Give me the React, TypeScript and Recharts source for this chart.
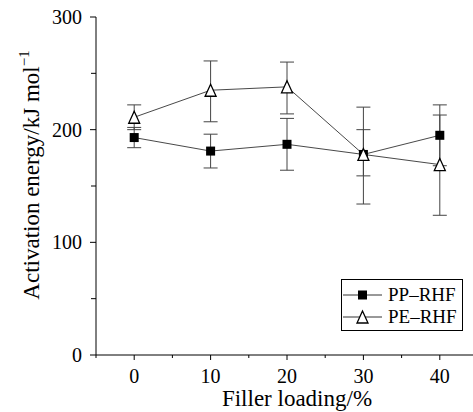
import React from "react";
import { LineChart, Line, XAxis, YAxis, ErrorBar, Legend } from "recharts";

// filler loading (%) on the x axis
const loading = [0, 10, 20, 30, 40];
// activation energy, kJ/mol
const ppRhf = [193, 181, 187, 178, 195];
const ppRhfErr: [number, number][] = [[9, 9], [15, 15], [23, 23], [19, 22], [27, 27]];
const peRhf = [211, 235, 238, 178, 169];
const peRhfErr: [number, number][] = [[11, 11], [28, 26], [24, 22], [44, 42], [45, 44]];

const xTicks = [-5, 0, 5, 10, 15, 20, 25, 30, 35, 40, 45];
const yTicks = [0, 50, 100, 150, 200, 250, 300];

const FONT = "'Liberation Serif', 'Times New Roman', serif";

const data = loading.map((x, i) => ({
  x,
  pp: ppRhf[i],
  ppErr: ppRhfErr[i],
  pe: peRhf[i],
  peErr: peRhfErr[i],
}));

const BottomTick = ({ x, y, payload }: any) => {
  const v = payload.value;
  const major = v % 10 === 0;
  return (
    <g>
      <line x1={x} x2={x} y1={y} y2={y + (major ? 5 : 3)} stroke="#000" />
      {major && v >= 0 && v <= 40 && (
        <text x={x} y={y + 28} textAnchor="middle" fontSize={20} fontFamily={FONT} fill="#000">
          {v}
        </text>
      )}
    </g>
  );
};

const TopTick = ({ x, y, payload }: any) => {
  const major = payload.value % 10 === 0;
  return <line x1={x} x2={x} y1={y} y2={y + (major ? 7 : 5)} stroke="#000" />;
};

const LeftTick = ({ x, y, payload }: any) => {
  const v = payload.value;
  const major = v % 100 === 0;
  return (
    <g>
      <line x1={x} x2={x - (major ? 6 : 5)} y1={y} y2={y} stroke="#000" />
      {major && (
        <text x={x - 14} y={y + 7} textAnchor="end" fontSize={20} fontFamily={FONT} fill="#000">
          {v}
        </text>
      )}
    </g>
  );
};

const RightTick = ({ x, y, payload }: any) => {
  const major = payload.value % 100 === 0;
  return <line x1={x} x2={x - (major ? 7 : 5)} y1={y} y2={y} stroke="#000" />;
};

const SquareDot = ({ cx, cy }: any) => (
  <rect x={cx - 4.5} y={cy - 4.5} width={9} height={9} fill="#000" />
);

const TriangleDot = ({ cx, cy }: any) => (
  <polygon
    points={`${cx},${cy - 6} ${cx - 5.5},${cy + 6} ${cx + 5.5},${cy + 6}`}
    fill="#fff"
    stroke="#000"
    strokeWidth={1.3}
  />
);

const LegendBox = () => (
  <div
    style={{
      border: "1px solid #000",
      background: "#fff",
      width: 120,
      height: 50,
      boxSizing: "content-box",
      fontFamily: FONT,
      fontSize: 19,
      color: "#000",
    }}
  >
    {[
      { label: "PP–RHF", marker: "square" },
      { label: "PE–RHF", marker: "triangle" },
    ].map((it, i) => (
      <div key={it.label} style={{ display: "flex", alignItems: "center", height: 21, marginTop: i === 0 ? 4 : 1 }}>
        <svg width={44} height={16} style={{ display: "block" }}>
          <line x1={1} x2={40} y1={8} y2={8} stroke="#333" strokeWidth={1} />
          {it.marker === "square" ? (
            <rect x={16} y={3.5} width={9} height={9} fill="#000" />
          ) : (
            <polygon points="20.5,2 15,14 26,14" fill="#fff" stroke="#000" strokeWidth={1.3} />
          )}
        </svg>
        <span style={{ marginLeft: 2, lineHeight: "21px" }}>{it.label}</span>
      </div>
    ))}
  </div>
);

const YTitle = () => (
  <text
    x={39}
    y={175}
    transform="rotate(-90, 39, 175)"
    textAnchor="middle"
    fontSize={23}
    fontFamily={FONT}
    fill="#000"
  >
    <tspan>Activation energy/kJ mol</tspan>
    <tspan dy={-10} fontSize={15}>
      −1
    </tspan>
  </text>
);

const XTitle = () => (
  <text x={297} y={406} textAnchor="middle" fontSize={23} fontFamily={FONT} fill="#000">
    Filler loading/%
  </text>
);

export default function App() {
  return (
    <div
      style={{
        position: "fixed",
        left: 0,
        top: 0,
        width: 473,
        height: 412,
        overflow: "hidden",
        background: "#fff",
      }}
    >
      <LineChart width={490} height={412} data={data} margin={{ top: 17, right: 12, left: 0, bottom: 0 }}>
        <XAxis
          dataKey="x"
          type="number"
          domain={[-5, 45]}
          ticks={xTicks}
          interval={0}
          height={57}
          axisLine={{ stroke: "#000" }}
          tickLine={false}
          tickSize={0}
          tickMargin={0}
          tick={<BottomTick />}
          label={<XTitle />}
        />
        <XAxis
          xAxisId="top"
          orientation="top"
          dataKey="x"
          type="number"
          domain={[-5, 45]}
          ticks={xTicks}
          interval={0}
          height={0}
          axisLine={{ stroke: "#000" }}
          tickLine={false}
          tickSize={0}
          tickMargin={0}
          tick={<TopTick />}
        />
        <YAxis
          type="number"
          domain={[0, 300]}
          ticks={yTicks}
          interval={0}
          width={96}
          axisLine={{ stroke: "#000" }}
          tickLine={false}
          tickSize={0}
          tickMargin={0}
          tick={<LeftTick />}
          label={<YTitle />}
        />
        <YAxis
          yAxisId="right"
          orientation="right"
          type="number"
          domain={[0, 300]}
          ticks={yTicks}
          interval={0}
          width={0}
          axisLine={{ stroke: "#000" }}
          tickLine={false}
          tickSize={0}
          tickMargin={0}
          tick={<RightTick />}
        />
        <Legend
          layout="horizontal"
          verticalAlign="middle"
          align="center"
          content={<LegendBox />}
          wrapperStyle={{ position: "absolute", left: 341, top: 279, width: 122, height: 52, bottom: "auto" }}
        />
        <Line
          dataKey="pp"
          name="PP–RHF"
          stroke="#333"
          strokeWidth={0.9}
          dot={<SquareDot />}
          activeDot={false}
          isAnimationActive={false}
        >
          <ErrorBar dataKey="ppErr" direction="y" width={7} stroke="#444" strokeWidth={1} />
        </Line>
        <Line
          dataKey="pe"
          name="PE–RHF"
          stroke="#333"
          strokeWidth={0.9}
          dot={<TriangleDot />}
          activeDot={false}
          isAnimationActive={false}
        >
          <ErrorBar dataKey="peErr" direction="y" width={7} stroke="#444" strokeWidth={1} />
        </Line>
      </LineChart>
    </div>
  );
}
